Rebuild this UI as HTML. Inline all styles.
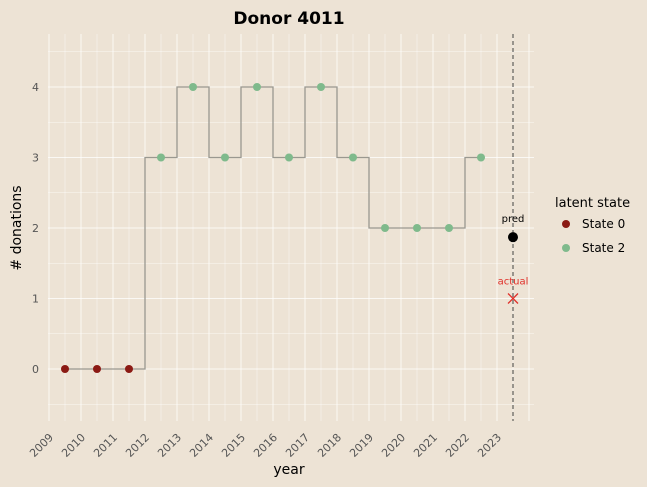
<!DOCTYPE html>
<html><head><meta charset="utf-8"><style>
body{margin:0;background:#ede3d5;}
svg{display:block;font-family:"DejaVu Sans","Liberation Sans",sans-serif;}
</style></head><body>
<svg id="c" width="647" height="487"></svg>
<script>
const years=[2009,2010,2011,2012,2013,2014,2015,2016,2017,2018,2019,2020,2021,2022,2023];
const donations=[0,0,0,3,4,3,4,3,4,3,2,2,2,3];
const states=[0,0,0,2,2,2,2,2,2,2,2,2,2,2];
const yTicks=[0,1,2,3,4];
const predValue=1.87;
const actualValue=1;
const ns="http://www.w3.org/2000/svg";
const svg=document.getElementById('c');
const L=48,R=534,T=34,B=421;
const X=v=>49+(v-2009)*32;
const Y=v=>369-v*70.5;
function mk(t,a,p){const e=document.createElementNS(ns,t);for(const k in a)e.setAttribute(k,a[k]);(p||svg).appendChild(e);return e;}
const bg=mk('rect',{x:0,y:0,width:647,height:487,fill:'#ede3d5'});

const g=mk('g',{});
for(let v=-0.5;v<=4.5;v+=0.5){if(Y(v)<T||Y(v)>B)continue;mk('line',{x1:L,x2:R,y1:Y(v),y2:Y(v),stroke:'#fff','stroke-width':v%1===0?1:0.5,opacity:0.75},g);}
for(let v=2009;v<=2024;v+=0.5){if(X(v)<L||X(v)>R)continue;mk('line',{x1:X(v),x2:X(v),y1:T,y2:B,stroke:'#fff','stroke-width':v%1===0?1:0.5,opacity:0.75},g);}
let d='';
donations.forEach((v,i)=>{const cx=X(years[i]+0.5);if(i===0)d+=`M${cx},${Y(v)}`;else{const mx=X(years[i]);d+=`H${mx}V${Y(v)}H${cx}`;}});
const sl=mk('path',{d:d,fill:'none',stroke:'#9a9890','stroke-width':1.3});

donations.forEach((v,i)=>{const c=mk('circle',{cx:X(years[i]+0.5),cy:Y(v),r:4,fill:states[i]===0?'#8b1a14':'#7fba8c'});

});
const pl=mk('line',{x1:X(2023.5),x2:X(2023.5),y1:T,y2:B,stroke:'#444','stroke-width':1,'stroke-dasharray':'4,3'});

const pp=mk('circle',{cx:X(2023.5),cy:Y(predValue),r:5,fill:'#000'});

const pt=mk('text',{x:X(2023.5),y:Y(predValue)-15,'text-anchor':'middle','font-size':10,fill:'#000'});pt.textContent='pred';

const ax=X(2023.5),ay=Y(actualValue);
const am=mk('path',{d:`M${ax-5},${ay-5}L${ax+5},${ay+5}M${ax-5},${ay+5}L${ax+5},${ay-5}`,stroke:'#e0302a','stroke-width':1.3});

const at=mk('text',{x:ax,y:ay-14,'text-anchor':'middle','font-size':10,fill:'#e0302a'});at.textContent='actual';

yTicks.forEach(v=>{const t=mk('text',{x:39,y:Y(v)+4,'text-anchor':'end','font-size':11,fill:'#555'});t.textContent=v;
});
years.forEach(v=>{const t=mk('text',{x:0,y:0,'text-anchor':'end','font-size':11,fill:'#555',transform:`translate(${X(v)+5},${438}) rotate(-45)`});t.textContent=v;
});
const tt=mk('text',{x:289,y:24,'text-anchor':'middle','font-size':17,'font-weight':'bold',fill:'#000'});tt.textContent='Donor 4011';

const xt=mk('text',{x:289,y:474,'text-anchor':'middle','font-size':14,fill:'#000'});xt.textContent='year';

const yt=mk('text',{x:0,y:0,'text-anchor':'middle','font-size':14,fill:'#000',transform:'translate(21,228) rotate(-90)'});yt.textContent='# donations';

const lg=mk('g',{});
const lt=mk('text',{x:555,y:207,'font-size':13,fill:'#000'},lg);lt.textContent='latent state';
[['State 0','#8b1a14',224],['State 2','#7fba8c',248]].forEach(([n,c,y])=>{
const e=mk('g',{},lg);
mk('circle',{cx:566,cy:y,r:4,fill:c},e);const t=mk('text',{x:582,y:y+4,'font-size':12,fill:'#000'},e);t.textContent=n;});
</script>
</body></html>
